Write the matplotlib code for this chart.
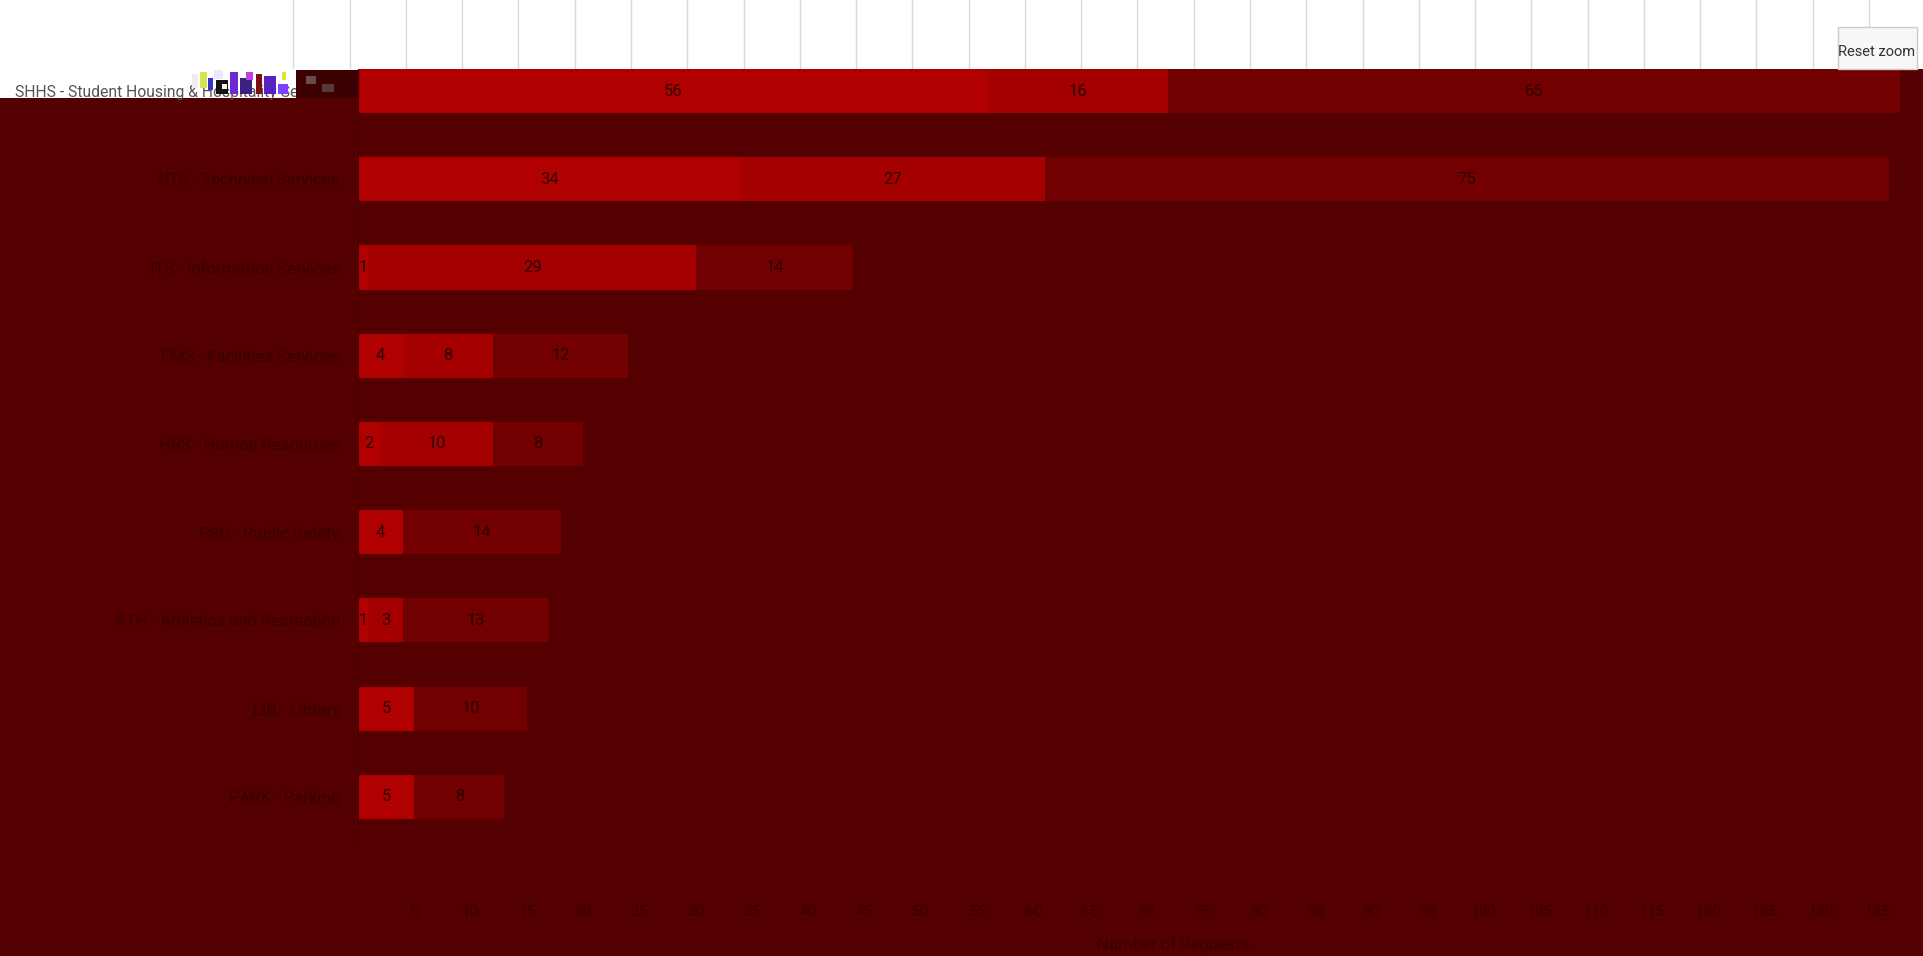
import matplotlib.pyplot as plt
from matplotlib.patches import Rectangle

W, H = 1923, 956

# === Data ===
categories = [
    "SHHS - Student Housing & Hospitality Services",
    "UTS - Technical Services",
    "ITS - Information Services",
    "FMS - Facilities Services",
    "HRS - Human Resources",
    "PSD - Public Safety",
    "ATH - Athletics and Recreation",
    "LIB - Library",
    "PARK - Parking",
]
series_a = [56, 34, 1, 4, 2, 4, 1, 5, 5]
series_b = [16, 27, 29, 8, 10, 0, 3, 0, 0]
series_c = [65, 75, 14, 12, 8, 14, 13, 10, 8]
x_ticks = list(range(0, 140, 5))
x_max = 137

# === Style ===
BG = "#540000"
COLORS = ["#b10000", "#a40000", "#720000"]
DARK_TEXT = "#380000"
FONT = ["Roboto", "DejaVu Sans"]


def fig_box(x0, y0, x1, y1):
    # pixel box (top-left origin) -> figure fraction rect
    return [x0 / W, 1 - y1 / H, (x1 - x0) / W, (y1 - y0) / H]


fig = plt.figure(figsize=(W / 100, H / 100), dpi=100, facecolor=BG)

# === Main bar chart ===
ax = fig.add_axes(fig_box(358, 47, 1900, 841))
ax.set_facecolor("none")
ypos = list(range(len(categories)))
left = [0] * len(categories)
for vals, color in zip([series_a, series_b, series_c], COLORS):
    bars = ax.barh(ypos, vals, left=left, height=0.5, color=color, linewidth=0)
    ax.bar_label(bars, labels=[str(v) if v else "" for v in vals],
                 label_type="center", color="#2e0000", fontsize=12,
                 family=FONT)
    left = [l + v for l, v in zip(left, vals)]

ax.set_xlim(0, x_max)
ax.set_ylim(len(categories) - 0.5, -0.5)
ax.set_xticks(x_ticks, ["" if t == 0 else str(t) for t in x_ticks])
ax.set_yticks(ypos, categories)
ax.tick_params(axis="x", length=0, pad=46, colors=DARK_TEXT, labelsize=11)
ax.tick_params(axis="y", length=0, pad=13, colors=DARK_TEXT, labelsize=12)
for lbl in ax.get_xticklabels() + ax.get_yticklabels():
    lbl.set_family(FONT)
first = ax.get_yticklabels()[0]
first.set_color("#555555")
first.set_fontsize(11.3)
for side in ["top", "right", "bottom"]:
    ax.spines[side].set_visible(False)
ax.spines["left"].set_color("#4a0000")

fig.text(1173 / W, 1 - 945 / H, "Number of Requests", ha="center", va="center",
         color=DARK_TEXT, fontsize=12, family=FONT)

# white backdrop behind the first category label
fig.patches.append(Rectangle((0, 1 - 98 / H), 358 / W, 98 / H, transform=fig.transFigure,
                             facecolor="white", edgecolor="none", zorder=-1))

# === White header strip with gridlines ===
strip = fig.add_axes(fig_box(0, 0, W, 69), zorder=3)
strip.set_facecolor("white")
u = x_max / (1900 - 358)
strip.set_xlim(-358 * u + 0.75, (W - 358) * u + 0.75)
strip.set_ylim(0, 1)
for t in [-5] + x_ticks:
    strip.axvline(t, color="#d9d9d9", lw=1)
strip.set_xticks([])
strip.set_yticks([])
for s in strip.spines.values():
    s.set_visible(False)

# broken pixels next to the first label
glitch = [
    (192, 74, 6, 14, "#eeeeee"), (200, 72, 7, 16, "#d6e64c"), (208, 78, 5, 12, "#3434c8"),
    (214, 70, 9, 9, "#e8e8ff"), (216, 80, 12, 14, "#141414"), (222, 84, 5, 5, "#f2f2f2"),
    (230, 72, 8, 22, "#6a2ad0"), (240, 78, 12, 16, "#3d2080"), (246, 72, 7, 8, "#c040e0"),
    (256, 74, 6, 20, "#7a1010"), (264, 76, 12, 18, "#5a20c0"), (278, 84, 10, 10, "#8040ff"),
    (282, 72, 4, 8, "#e0e040"), (296, 70, 62, 28, "#3c0000"), (306, 76, 10, 8, "#6a4a4a"),
    (322, 84, 12, 8, "#5a3a3a"),
]
for gx, gy, gw, gh, gc in glitch:
    fig.patches.append(Rectangle((gx / W, 1 - (gy + gh) / H), gw / W, gh / H,
                                 transform=fig.transFigure, facecolor=gc,
                                 edgecolor="none", zorder=5))

# === Reset zoom button ===
fig.patches.append(Rectangle((1838 / W, 1 - 69 / H), 79 / W, 42 / H, transform=fig.transFigure,
                             facecolor="#f7f7f7", edgecolor="#cccccc", lw=1, zorder=10))
fig.text(1877 / W, 1 - 52 / H, "Reset zoom", ha="center", va="center",
         color="#333333", fontsize=10.5, family=FONT, zorder=11)

fig.savefig("out.png", dpi=100, facecolor=BG)
